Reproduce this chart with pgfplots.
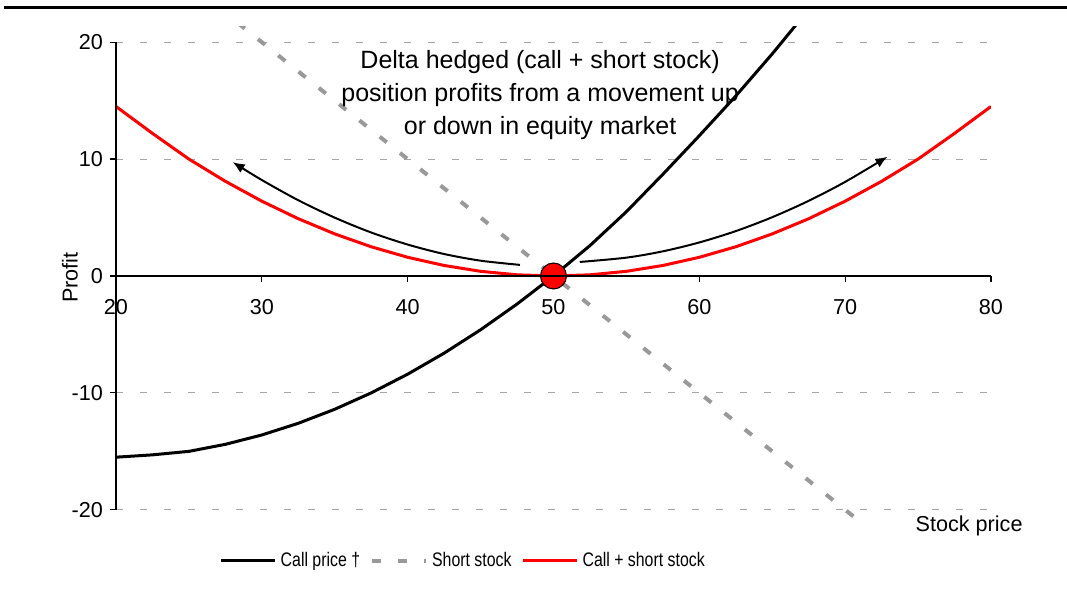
\documentclass[border=0pt]{standalone}
\usepackage{fontspec}
\setmainfont{Liberation Sans}
\newfontfamily\legendfont[FakeStretch=0.81]{Liberation Sans}
\usepackage{pgfplots}
\pgfplotsset{compat=1.18}
\usetikzlibrary{arrows.meta}
\definecolor{stockgray}{HTML}{999999}
\definecolor{gridgray}{HTML}{A6A6A6}
\definecolor{hedgered}{HTML}{FF0000}

\begin{document}
\begin{tikzpicture}[font=\fontsize{10.8}{13}\selectfont]
\useasboundingbox (0,0) rectangle (533.5pt,294.5pt);
\draw[line width=1.5pt] (2pt,290.5pt) -- (533.5pt,290.5pt);
\begin{axis}[
 at={(58pt,32pt)}, anchor=south west,
 scale only axis, width=437.5pt, height=249pt,
 xmin=20, xmax=80, ymin=-21.3, ymax=21.3,
 axis x line*=middle, axis y line*=left,
 axis line style={draw=none},
 hide obscured x ticks=false,
 clip mode=individual,
 xtick={20,30,...,80}, ytick={-20,-10,...,20},
 tick align=outside, major tick length=3pt,
 tick style={black, line width=0.6pt},
 ymajorgrids,
 grid style={gridgray, line width=0.5pt, dash pattern=on 3.5pt off 8.5pt},
 /pgf/number format/assume math mode=true,
 tick label style={font=\fontsize{10.8}{13}\selectfont},
 xticklabel style={yshift=-5pt},
 xlabel={Stock price},
 x label style={at={(axis description cs:0.975,-0.014)}, anchor=base},
 ylabel={Profit},
 y label style={at={(axis description cs:-0.0526,0.497)}, rotate=0, anchor=center},
 legend columns=3,
 legend style={draw=none, fill=none, at={(0.398,-0.072)}, anchor=center,
   font=\legendfont\fontsize{9.8}{11.5}\selectfont,
   /tikz/every even column/.append style={column sep=3pt}},
 legend image code/.code={\draw[#1] (0pt,0pt) -- (27pt,0pt);},
]
\addplot[black, line width=1.5pt] coordinates {
 (20,-15.5) (22.5,-15.3) (25,-15.0) (27.5,-14.4) (30,-13.6) (32.5,-12.6)
 (35,-11.4) (37.5,-10.0) (40,-8.4) (42.5,-6.6) (45,-4.6) (47.5,-2.4)
 (50,0) (52.5,2.6) (55,5.5) (57.5,8.7) (60,12.0) (62.5,15.4) (65,19.0)
 (67.5,22.8) (70,26.6) (72.5,30.6) (75,35.0) (77.5,39.7) (80,44.5)};
\addlegendentry{Call price †}
\addplot[stockgray, line width=2pt, dash pattern=on 4.5pt off 8.5pt] coordinates {
 (20,30) (80,-30)};
\addlegendentry{Short stock}
\addplot[hedgered, line width=1.5pt] coordinates {
 (20,14.5) (22.5,12.2) (25,10.0) (27.5,8.1) (30,6.4) (32.5,4.9) (35,3.6)
 (37.5,2.5) (40,1.6) (42.5,0.9) (45,0.4) (47.5,0.1) (50,0) (52.5,0.1)
 (55,0.4) (57.5,0.9) (60,1.6) (62.5,2.5) (65,3.6) (67.5,4.9) (70,6.4)
 (72.5,8.1) (75,10.0) (77.5,12.2) (80,14.5)};
\addlegendentry{Call + short stock}
\addplot[black, line width=1pt, smooth, -{Latex[length=6pt,width=5pt]}, forget plot] coordinates {
 (47.7,0.95) (45,1.31) (42.5,1.88) (40,2.69) (37.5,3.72) (35,4.99)
 (32.5,6.48) (30,8.21) (28,9.74)};
\addplot[black, line width=1pt, smooth, -{Latex[length=6pt,width=5pt]}, forget plot] coordinates {
 (51.8,1.2) (55,1.57) (57.5,2.11) (60,2.87) (62.5,3.84) (65,5.03)
 (67.5,6.43) (70,8.05) (72.9,10.2)};
\addplot[only marks, mark=*, mark size=6.5pt,
 mark options={fill=red, draw=black, line width=0.5pt}, forget plot]
 coordinates {(50,0)};
\draw[black, line width=0.6pt] (axis cs:20,-20) -- (axis cs:20,20);
\draw[black, line width=0.6pt] (axis cs:20,0) -- (axis cs:80,0);
\node[align=center, font=\fontsize{12.5}{16.5}\selectfont] at (axis cs:49.08,15.5)
 {Delta hedged (call + short stock)\\position profits from a movement up\\or down in equity market};
\end{axis}
\end{tikzpicture}
\end{document}
